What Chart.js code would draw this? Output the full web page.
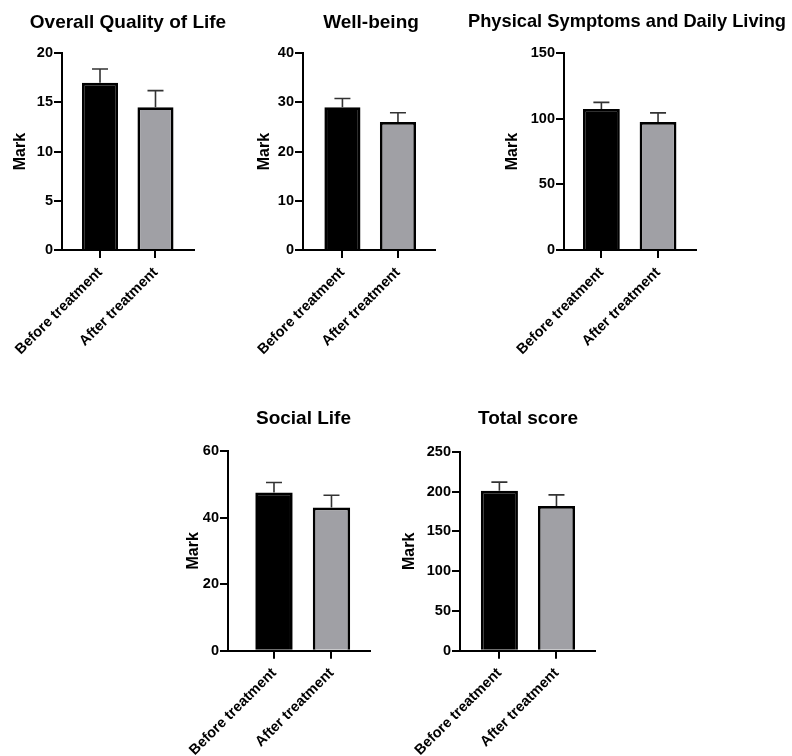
<!DOCTYPE html>
<html>
<head>
<meta charset="utf-8">
<script src="https://cdn.jsdelivr.net/npm/chart.js@4.4.1/dist/chart.umd.min.js"></script>
<style>
  body { margin: 0; background: #fff; }
  #wrap { position: relative; width: 792px; height: 756px; overflow: hidden; }
  .panel { position: absolute; }
</style>
</head>
<body>
<div id="wrap"></div>
<script>
// data
const categories = ['Before treatment', 'After treatment'];
const titles = ['Overall Quality of Life', 'Well-being', 'Physical Symptoms and Daily Living', 'Social Life', 'Total score'];
const beforeMeans = [17.0, 29.0, 107.5, 47.5, 201];
const afterMeans = [14.5, 26.0, 97.5, 43.0, 182];
const beforeErr = [1.4, 1.8, 5, 3, 11];
const afterErr = [1.7, 1.9, 7, 3.7, 14];
const yMax = [20, 40, 150, 60, 250];
const yStep = [5, 10, 50, 20, 50];

// where each panel sits on the page
const layout = [
  { left: 0,   top: 0,   w: 256, h: 370, padL: 12,  padR: 62, yw: 50,   xh: 120,   tTop: 11.2, tBot: 19.2, xMin: -0.685, xMax: 1.694 },
  { left: 250, top: 0,   w: 242, h: 370, padL: 5.5, padR: 57, yw: 47.5, xh: 120,   tTop: 11.5, tBot: 18.9, xMin: -0.71,  xMax: 1.667 },
  { left: 468, top: 0,   w: 318, h: 370, padL: 36,  padR: 90, yw: 60,   xh: 120,   tTop: 10.2, tBot: 20.2, xMin: -0.66,  xMax: 1.67 },
  { left: 180, top: 400, w: 247, h: 356, padL: 5,   padR: 57, yw: 43,   xh: 105.3, tTop: 7.7,  tBot: 20.4, xMin: -0.8,   xMax: 1.67 },
  { left: 390, top: 400, w: 276, h: 356, padL: 10.5,padR: 71, yw: 59.5, xh: 105.3, tTop: 7.7,  tBot: 21.4, xMin: -0.69,  xMax: 1.675 }
];

Chart.defaults.font.family = '"Liberation Sans", Arial, Helvetica, sans-serif';
Chart.defaults.color = '#000';

const errorBars = {
  id: 'errorBars',
  afterDatasetsDraw(chart) {
    const ctx = chart.ctx;
    const y = chart.scales.y;
    const ds = chart.data.datasets[0];
    const meta = chart.getDatasetMeta(0);
    ctx.save();
    ctx.strokeStyle = '#333';
    ctx.lineWidth = 1.6;
    meta.data.forEach((bar, i) => {
      const top = y.getPixelForValue(ds.data[i].y + ds.errors[i]);
      ctx.beginPath();
      ctx.moveTo(bar.x, bar.y);
      ctx.lineTo(bar.x, top);
      ctx.moveTo(bar.x - 8, top);
      ctx.lineTo(bar.x + 8, top);
      ctx.stroke();
    });
    ctx.restore();
  }
};

titles.forEach((title, k) => {
  const L = layout[k];
  const div = document.createElement('div');
  div.className = 'panel';
  div.style.left = L.left + 'px';
  div.style.top = L.top + 'px';
  const canvas = document.createElement('canvas');
  canvas.width = L.w;
  canvas.height = L.h;
  div.appendChild(canvas);
  document.getElementById('wrap').appendChild(div);

  const means = [beforeMeans[k], afterMeans[k]];
  const axisGrid = { display: true, drawOnChartArea: false, drawTicks: true, tickLength: 8, color: '#000', lineWidth: 2, offset: false };

  new Chart(canvas, {
    type: 'bar',
    data: {
      datasets: [{
        data: means.map((v, i) => ({ x: i, y: v })),
        errors: [beforeErr[k], afterErr[k]],
        backgroundColor: ['#000000', '#a0a0a5'],
        borderColor: '#000',
        borderWidth: 2.7,
        barPercentage: 0.65,
        categoryPercentage: 1
      }]
    },
    options: {
      responsive: false,
      animation: false,
      layout: { padding: 0 },
      plugins: {
        legend: { display: false },
        tooltip: { enabled: false },
        title: {
          display: true,
          text: title,
          color: '#000',
          font: { size: 19, weight: 'bold' },
          padding: { top: L.tTop, bottom: L.tBot }
        }
      },
      scales: {
        x: {
          type: 'linear',
          min: L.xMin,
          max: L.xMax,
          offset: false,
          afterBuildTicks: s => { s.ticks = categories.map((c, i) => ({ value: i })); },
          afterFit: s => { s.height = L.xh; s.paddingLeft = 0; s.paddingRight = L.padR; },
          grid: axisGrid,
          border: { display: true, color: '#000', width: 2 },
          ticks: {
            autoSkip: false,
            maxRotation: 45,
            minRotation: 45,
            padding: 6,
            color: '#000',
            font: { size: 14.5, weight: 'bold' },
            callback: v => categories[v]
          }
        },
        y: {
          min: 0,
          max: yMax[k],
          afterFit: s => { s.width = L.padL + L.yw; },
          grid: axisGrid,
          border: { display: true, color: '#000', width: 2 },
          title: { display: true, text: 'Mark', color: '#000', font: { size: 16, weight: 'bold' }, padding: { top: L.padL - 0.6, bottom: 0 } },
          ticks: { stepSize: yStep[k], padding: 1, color: '#000', font: { size: 14.5, weight: 'bold' } }
        }
      }
    },
    plugins: [errorBars]
  });
});
</script>
</body>
</html>
